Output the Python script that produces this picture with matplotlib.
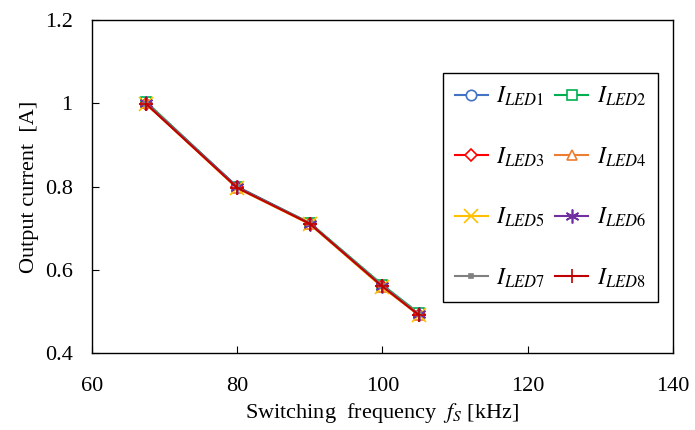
import matplotlib
matplotlib.use("Agg")
import matplotlib.pyplot as plt

plt.rcParams["font.family"] = ["Liberation Serif", "DejaVu Serif"]
plt.rcParams["mathtext.fontset"] = "stix"

# switching frequency [kHz]
freq = [67.5, 80, 90, 100, 105]

# output current of each LED [A]
i_led = {
    "LED1": [1.000, 0.800, 0.712, 0.562, 0.494],
    "LED2": [1.003, 0.799, 0.713, 0.564, 0.496],
    "LED3": [0.999, 0.798, 0.711, 0.560, 0.492],
    "LED4": [1.001, 0.797, 0.710, 0.559, 0.491],
    "LED5": [0.998, 0.796, 0.710, 0.558, 0.492],
    "LED6": [1.000, 0.799, 0.711, 0.561, 0.493],
    "LED7": [0.999, 0.798, 0.712, 0.562, 0.494],
    "LED8": [0.998, 0.797, 0.711, 0.560, 0.492],
}

colors = ["#4472C4", "#00B050", "#FF0000", "#ED7D31",
          "#FFC000", "#7030A0", "#808080", "#C00000"]
markers = ["o", "s", "D", "^", "x", (6, 2, 0), "s", "+"]
msizes = [7.5, 7.5, 6, 7.5, 10, 10, 3, 10]
faces = ["white", "white", "white", "white", "none", "none", "#808080", "none"]

fig = plt.figure(figsize=(6.95, 4.3), dpi=100)
ax = fig.add_axes([0.1324, 0.179, 0.8356, 0.774])

handles = []
for (name, vals), c, m, ms, fc in zip(i_led.items(), colors, markers, msizes, faces):
    h, = ax.plot(freq, vals, color=c, marker=m, markersize=ms, linewidth=1.5,
                 markerfacecolor=fc, markeredgecolor=c, markeredgewidth=1.2,
                 label=r"$I_{\mathit{%s}}$" % name)
    handles.append(h)

ax.set_xlim(60, 140)
ax.set_ylim(0.4, 1.2)
ax.set_xticks([60, 80, 100, 120, 140])
ax.set_yticks([0.4, 0.6, 0.8, 1.0, 1.2])
ax.set_yticklabels(["0.4", "0.6", "0.8", "1", "1.2"])
ax.tick_params(direction="in", length=5, labelsize=16, top=False, right=False)
ax.tick_params(axis="x", pad=17)
ax.tick_params(axis="y", pad=14)
for s in ax.spines.values():
    s.set_linewidth(1.0)

ax.set_xlabel(r"Switching  frequency  $f_S$ [kHz]", fontsize=16, labelpad=4)
ax.set_ylabel("Output current  [A]", fontsize=16, labelpad=4)

# legend rows: (1,2), (3,4), (5,6), (7,8)
order = [0, 2, 4, 6, 1, 3, 5, 7]
leg = ax.legend([handles[i] for i in order],
                [handles[i].get_label() for i in order],
                ncol=2, loc="upper right", bbox_to_anchor=(0.974, 0.841),
                borderaxespad=0, fontsize=17, labelspacing=1.58,
                handlelength=1.4, columnspacing=0.45, handletextpad=0.35,
                borderpad=0.5, fancybox=False, framealpha=1)
leg.get_frame().set_edgecolor("black")
leg.get_frame().set_linewidth(1.0)

fig.savefig("out.png", dpi=100)
